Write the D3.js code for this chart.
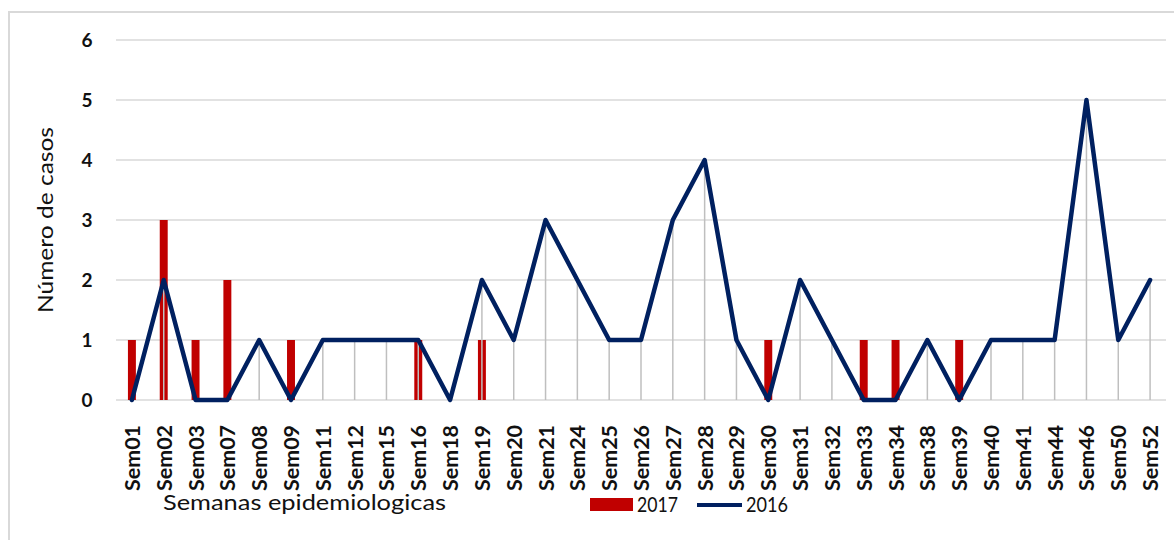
<!DOCTYPE html>
<html>
<head>
<meta charset="utf-8">
<script src="https://cdn.jsdelivr.net/npm/d3@7"></script>
<style>
body { margin: 0; background: #fff; }
svg { display: block; font-family: Lato, "Open Sans", sans-serif; }
</style>
</head>
<body>
<svg id="chart" width="1174" height="540"></svg>
<script>
//
// Data
//
var weeks = ["Sem01","Sem02","Sem03","Sem07","Sem08","Sem09","Sem11","Sem12","Sem15","Sem16","Sem18",
	"Sem19","Sem20","Sem21","Sem24","Sem25","Sem26","Sem27","Sem28","Sem29","Sem30","Sem31","Sem32",
	"Sem33","Sem34","Sem38","Sem39","Sem40","Sem41","Sem44","Sem46","Sem50","Sem52"];
var cases2017 = [1,3,1,2,0,1,0,0,0,1,0, 1,0,0,0,0,0,0,0,0,1,0,0, 1,1,0,1,0,0,0,0,0,0];
var cases2016 = [0,2,0,0,1,0,1,1,1,1,0, 2,1,3,2,1,1,3,4,1,0,2,1, 0,0,1,0,1,1,1,5,1,2];
var yTicks = [0,1,2,3,4,5,6];
var seriesNames = ["2017","2016"];

var RED = "#c00000", NAVY = "#002060", GRID = "#d9d9d9";

var svg = d3.select("#chart");

// chart frame (runs off the right/bottom like the original capture)
svg.append("rect")
	.attr("x", 9).attr("y", 12)
	.attr("width", 1200).attr("height", 600)
	.attr("fill", "none").attr("stroke", GRID).attr("stroke-width", 2);

var x = d3.scaleBand().domain(weeks).range([116, 1166]).padding(0);
var y = d3.scaleLinear().domain([0, 6]).range([400, 40]);
function cx(w) { return x(w) + x.bandwidth() / 2; }

// horizontal gridlines
svg.append("g").selectAll("line")
	.data(yTicks)
	.join("line")
	.attr("x1", 116).attr("x2", 1166)
	.attr("y1", function(d) { return y(d); })
	.attr("y2", function(d) { return y(d); })
	.attr("stroke", GRID).attr("stroke-width", 1.5);

// y tick labels
svg.append("g").selectAll("text")
	.data(yTicks)
	.join("text")
	.attr("x", 87)
	.attr("y", function(d) { return y(d); })
	.attr("dy", "0.36em")
	.attr("text-anchor", "middle")
	.attr("font-size", 19).attr("font-weight", "bold").attr("fill", "#111")
	.text(function(d) { return d; });

// 2017 bars
var barW = x.bandwidth() * 0.25;
svg.append("g").selectAll("rect")
	.data(weeks.map(function(w, i) { return {w: w, v: cases2017[i]}; }))
	.join("rect")
	.attr("x", function(d) { return cx(d.w) - barW / 2; })
	.attr("y", function(d) { return y(d.v); })
	.attr("width", barW)
	.attr("height", function(d) { return y(0) - y(d.v); })
	.attr("fill", RED);

// drop lines for 2016
var pts = weeks.map(function(w, i) { return {w: w, v: cases2016[i]}; });
svg.append("g").selectAll("line")
	.data(pts)
	.join("line")
	.attr("x1", function(d) { return cx(d.w); })
	.attr("x2", function(d) { return cx(d.w); })
	.attr("y1", function(d) { return y(d.v); })
	.attr("y2", y(0))
	.attr("stroke", "#bfbfbf").attr("stroke-width", 1.5);

// 2016 line
var line = d3.line()
	.x(function(d) { return cx(d.w); })
	.y(function(d) { return y(d.v); });
svg.append("path")
	.datum(pts)
	.attr("d", line)
	.attr("fill", "none")
	.attr("stroke", NAVY).attr("stroke-width", 4.5)
	.attr("stroke-linejoin", "round").attr("stroke-linecap", "round");

// x labels (rotated)
svg.append("g").selectAll("text")
	.data(weeks)
	.join("text")
	.attr("transform", function(d) { return "translate(" + cx(d) + ",425) rotate(-90)"; })
	.attr("dy", "0.38em")
	.attr("text-anchor", "end")
	.attr("font-size", 21).attr("font-weight", "bold").attr("fill", "#111")
	.attr("textLength", 66).attr("lengthAdjust", "spacingAndGlyphs")
	.text(function(d) { return d; });

// axis titles
svg.append("text")
	.attr("transform", "translate(53,220) rotate(-90)")
	.attr("text-anchor", "middle")
	.attr("font-size", 21).attr("fill", "#111")
	.attr("textLength", 186).attr("lengthAdjust", "spacingAndGlyphs")
	.text("Número de casos");

svg.append("text")
	.attr("x", 163).attr("y", 510)
	.attr("font-size", 21).attr("fill", "#111")
	.attr("textLength", 283).attr("lengthAdjust", "spacingAndGlyphs")
	.text("Semanas epidemiologicas");

//
// Legend
//
var lg = svg.append("g");
lg.append("rect")
	.attr("x", 590).attr("y", 498).attr("width", 43).attr("height", 13)
	.attr("fill", RED);
lg.append("text")
	.attr("x", 637).attr("y", 512)
	.attr("font-size", 21).attr("fill", "#111")
	.attr("textLength", 41).attr("lengthAdjust", "spacingAndGlyphs")
	.text(seriesNames[0]);
lg.append("line")
	.attr("x1", 697).attr("x2", 742).attr("y1", 505).attr("y2", 505)
	.attr("stroke", NAVY).attr("stroke-width", 4);
lg.append("text")
	.attr("x", 746).attr("y", 512)
	.attr("font-size", 21).attr("fill", "#111")
	.attr("textLength", 42).attr("lengthAdjust", "spacingAndGlyphs")
	.text(seriesNames[1]);
</script>
</body>
</html>
